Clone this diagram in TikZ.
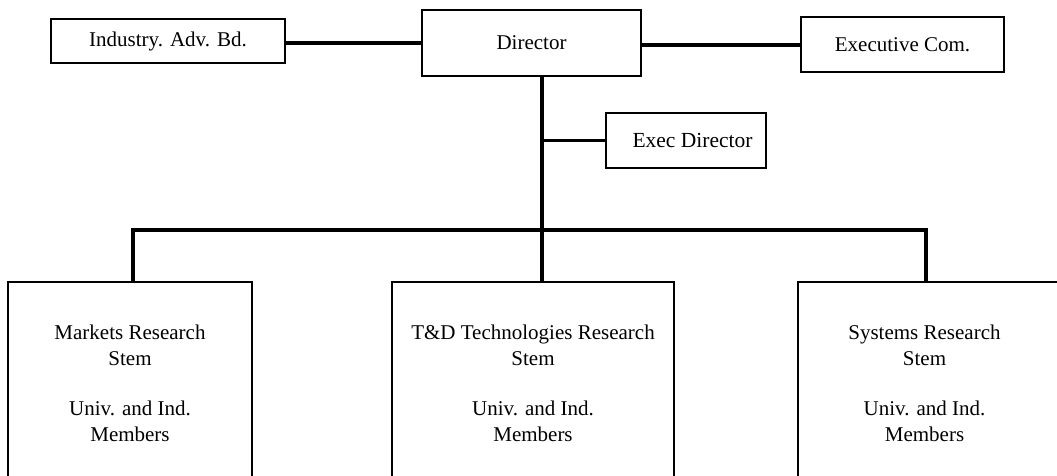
\documentclass[tikz,border=0pt]{standalone}
\usepackage{fontspec}
\setmainfont{Liberation Serif}
\begin{document}
\begin{tikzpicture}[x=1pt,y=-1pt,
  box/.style={draw=black,line width=1.3pt,inner sep=0pt,align=center,font=\fontsize{21}{26}\selectfont},
  link/.style={line width=3.4pt,line join=miter}]
\clip (0,0) rectangle (1057,476);
\fill[white] (0,0) rectangle (1057,476);
% top row
\node[box,minimum width=234pt,minimum height=44pt] (ind) at (168,41) {Industry. Adv. Bd.};
\node[box,minimum width=219pt,minimum height=66pt] (dir) at (531.5,43) {Director};
\node[box,minimum width=203pt,minimum height=55pt] (exc) at (902.5,44.5) {Executive Com.};
\node[box,minimum width=160pt,minimum height=55pt,font=\fontsize{21.5}{26}\selectfont] (ed) at (686,140.5) {\hspace*{13pt}Exec Director};
% bottom row
\node[box,minimum width=244pt,minimum height=202pt] (m1) at (130,383)
  {Markets Research\\Stem\\[24pt]Univ. and Ind.\\Members};
\node[box,minimum width=282pt,minimum height=202pt] (m2) at (533,383)
  {T\&D Technologies Research\\Stem\\[24pt]Univ. and Ind.\\Members};
\node[box,minimum width=267pt,minimum height=202pt] (m3) at (931.5,383)
  {\raisebox{-2pt}[\height][\depth]{\begin{tabular}{@{}c@{}}Systems Research\\Stem\\[24pt]Univ. and Ind.\\Members\end{tabular}}\hspace{14pt}};
% junctions
\coordinate (s) at (542,230);
\coordinate (b1) at (133,230);
\coordinate (b3) at (926,230);
% connectors
\draw[link] (ind.east |- 0,43) -- (dir.west |- 0,43);
\draw[link] (dir.east |- 0,45) -- (exc.west |- 0,45);
\draw[link] (dir.south -| s) -- (m2.north -| s);
\draw[link] (s |- ed.west) -- (ed.west);
\draw[link] (m1.north -| b1) -- (b1) -- (b3) -- (m3.north -| b3);
\end{tikzpicture}
\end{document}
